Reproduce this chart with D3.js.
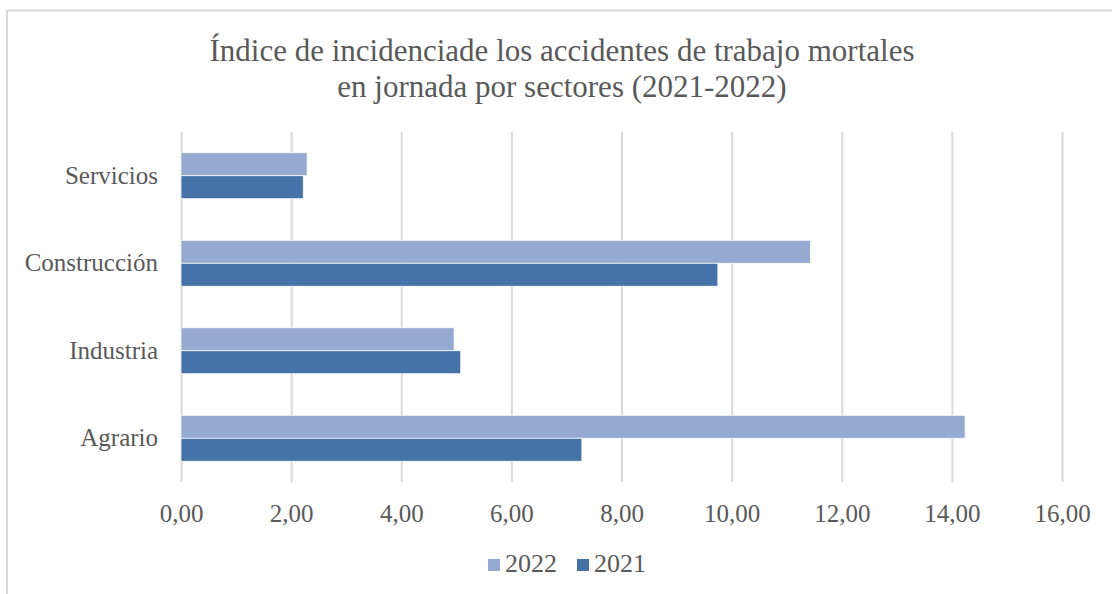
<!DOCTYPE html>
<html>
<head>
<meta charset="utf-8">
<script src="https://cdn.jsdelivr.net/npm/d3@7.9.0/dist/d3.min.js"></script>
<style>
  body { margin: 0; background: #fff; }
  svg { display: block; font-family: "Liberation Serif", serif; }
</style>
</head>
<body>
<div id="chart"></div>
<script>
const titleLines = ['Índice de incidenciade los accidentes de trabajo mortales', 'en jornada por sectores (2021-2022)'];
const sectors = ['Servicios', 'Construcción', 'Industria', 'Agrario'];
const years = ['2022', '2021'];
const values2022 = [2.29, 11.43, 4.96, 14.24];
const values2021 = [2.22, 9.75, 5.08, 7.28];
const xTicks = [0, 2, 4, 6, 8, 10, 12, 14, 16];
const colors = { '2022': '#95aad1', '2021': '#4573a8' };

const width = 1112;
const height = 594;
const plot = { left: 181, right: 1062, top: 132, bottom: 482 };

const svg = d3.select('#chart').append('svg')
  .attr('width', width)
  .attr('height', height);

// chart area border
svg.append('path')
  .attr('d', `M7,${height} V10.5 H${width}`)
  .attr('fill', 'none')
  .attr('stroke', '#d9d9d9')
  .attr('stroke-width', 2);

svg.append('text')
  .attr('text-anchor', 'middle')
  .attr('fill', '#595959')
  .style('font-size', '31px')
  .selectAll('tspan')
  .data(titleLines)
  .join('tspan')
  .attr('x', 562)
  .attr('y', (d, i) => 61 + i * 36)
  .text((d) => d);

const x = d3.scaleLinear().domain([0, 16]).range([plot.left, plot.right]);
const y = d3.scaleBand().domain(sectors).range([plot.top, plot.bottom]).paddingInner(0.475).paddingOuter(0.2375);
const ySub = d3.scaleBand().domain(years).range([0, y.bandwidth()]);

svg.append('g')
  .attr('transform', `translate(0,${plot.bottom})`)
  .call(d3.axisBottom(x).tickValues(xTicks).tickSize(-(plot.bottom - plot.top)).tickFormat((d) => d3.format('.2f')(d).replace('.', ',')))
  .call((g) => g.select('.domain').remove())
  .call((g) => g.selectAll('.tick line').attr('stroke', '#d9d9d9').attr('stroke-width', 2))
  .call((g) => g.selectAll('.tick text')
    .attr('y', 40)
    .attr('dy', 0)
    .attr('fill', '#595959')
    .style('font-size', '25px')
    .style('font-family', '"Liberation Serif", serif'));

svg.append('g')
  .attr('transform', `translate(${plot.left},0)`)
  .call(d3.axisLeft(y).tickSize(0).tickPadding(23))
  .call((g) => g.select('.domain').remove())
  .call((g) => g.selectAll('.tick text')
    .attr('fill', '#595959')
    .style('font-size', '25px')
    .style('font-family', '"Liberation Serif", serif'));

const rows = sectors.map((s, i) => ({ sector: s, '2022': values2022[i], '2021': values2021[i] }));

svg.append('g')
  .selectAll('g')
  .data(rows)
  .join('g')
  .attr('transform', (d) => `translate(0,${y(d.sector)})`)
  .selectAll('rect')
  .data((d) => years.map((yr) => ({ year: yr, value: d[yr] })))
  .join('rect')
  .attr('x', x(0))
  .attr('y', (d) => ySub(d.year))
  .attr('width', (d) => x(d.value) - x(0))
  .attr('height', ySub.bandwidth())
  .attr('fill', (d) => colors[d.year])
  .attr('stroke', '#fff')
  .attr('stroke-width', 0.75);

const legendItems = [{ year: '2022', x: 488 }, { year: '2021', x: 577 }];
const legend = svg.append('g').selectAll('g')
  .data(legendItems)
  .join('g')
  .attr('transform', (d) => `translate(${d.x},559)`);
legend.append('rect')
  .attr('width', 12)
  .attr('height', 12)
  .attr('fill', (d) => colors[d.year]);
legend.append('text')
  .attr('x', 17)
  .attr('y', 13)
  .attr('fill', '#595959')
  .style('font-size', '26px')
  .text((d) => d.year);
</script>
</body>
</html>
